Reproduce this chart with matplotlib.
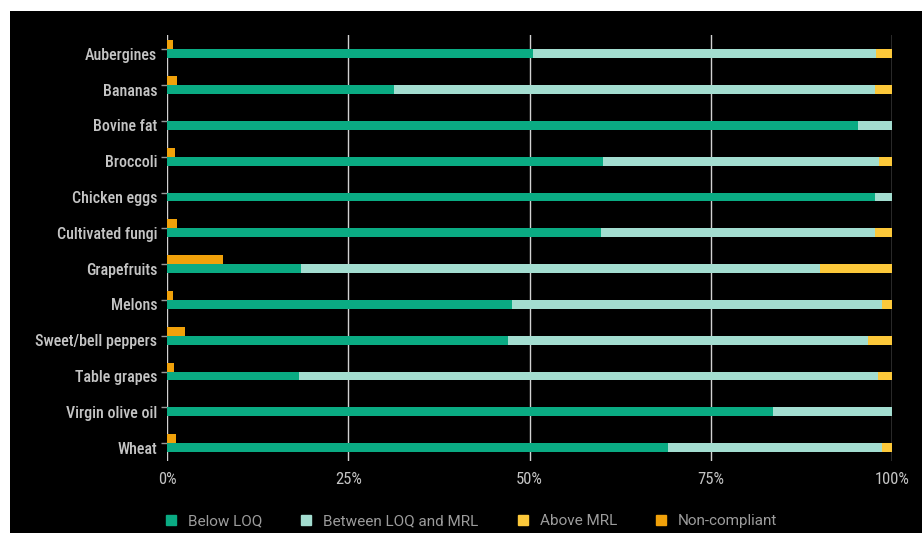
import matplotlib
matplotlib.use("Agg")
import matplotlib.pyplot as plt
from matplotlib import font_manager
from matplotlib.patches import Rectangle
from matplotlib.lines import Line2D
from matplotlib.ticker import FixedLocator

# Pesticide residue results per commodity (% of samples)
categories = ["Aubergines", "Bananas", "Bovine fat", "Broccoli", "Chicken eggs",
              "Cultivated fungi", "Grapefruits", "Melons", "Sweet/bell peppers",
              "Table grapes", "Virgin olive oil", "Wheat"]
below_loq = [50.5, 31.3, 95.3, 60.1, 97.7, 59.9, 18.5, 47.6, 47.0, 18.2, 83.6, 69.1]
between_loq_mrl = [47.3, 66.4, 4.7, 38.1, 2.3, 37.8, 71.5, 51.0, 49.7, 79.9, 16.4, 29.5]
above_mrl = [2.2, 2.3, 0.0, 1.8, 0.0, 2.3, 10.0, 1.4, 3.3, 1.9, 0.0, 1.4]
non_compliant = [0.8, 1.4, 0.0, 1.1, 0.0, 1.4, 7.7, 0.8, 2.5, 1.0, 0.0, 1.2]
x_ticks = [0, 25, 50, 75, 100]
x_tick_labels = ["0%", "25%", "50%", "75%", "100%"]
series_names = ["Below LOQ", "Between LOQ and MRL", "Above MRL", "Non-compliant"]

C_BELOW = "#0aab83"
C_BETWEEN = "#a3ddd0"
C_ABOVE = "#fcc83a"
C_NONCOMP = "#f0a10a"
TEXT = "#c4c4c4"
LEGEND_TEXT = "#9c9c9c"
GRID = "#d2d2d2"

available = {f.name for f in font_manager.fontManager.ttflist}
narrow = next((f for f in ["Roboto Condensed", "Liberation Sans Narrow", "Roboto", "DejaVu Sans"]
               if f in available), "DejaVu Sans")
regular = next((f for f in ["Roboto", "Lato", "DejaVu Sans"] if f in available), "DejaVu Sans")

W, H = 922, 533
fig = plt.figure(figsize=(W / 100, H / 100), dpi=100, facecolor="white")
# dark panel behind the chart
fig.patches.append(Rectangle((10 / W, 0), (W - 10) / W, (H - 11) / H,
                             transform=fig.transFigure, facecolor="black",
                             edgecolor="none", zorder=-10))

ax = fig.add_axes([167 / W, 1 - 461 / H, (892 - 167) / W, (461 - 35) / H])
ax.set_facecolor("none")

n = len(categories)
ypos = list(range(n))
h = 0.25
main_y = [y + h / 2 for y in ypos]
nc_y = [y - h / 2 for y in ypos]

left2 = list(below_loq)
left3 = [a + b for a, b in zip(below_loq, between_loq_mrl)]
ax.barh(main_y, below_loq, height=h, color=C_BELOW, zorder=3)
ax.barh(main_y, between_loq_mrl, left=left2, height=h, color=C_BETWEEN, zorder=3)
ax.barh(main_y, above_mrl, left=left3, height=h, color=C_ABOVE, zorder=3)
ax.barh(nc_y, non_compliant, height=h, color=C_NONCOMP, zorder=3)

ax.set_xlim(0, 100)
ax.set_ylim(n - 0.5, -0.4)

ax.set_xticks(x_ticks)
ax.set_xticklabels(x_tick_labels, fontsize=12, color=TEXT, family=narrow)
ax.tick_params(axis="x", length=0, pad=8)
ax.grid(axis="x", color=GRID, linewidth=1.0, zorder=1)

ax.set_yticks(main_y)
ax.set_yticklabels(categories, fontsize=11.5, color=TEXT, family=narrow, weight="medium")
ax.tick_params(axis="y", which="major", length=0, pad=7)
ax.yaxis.set_minor_locator(FixedLocator(ypos))
ax.tick_params(axis="y", which="minor", length=4, color="#999999", width=1)

for s in ax.spines.values():
    s.set_visible(False)

handles = [Line2D([], [], marker="s", linestyle="none", markersize=7,
                  markerfacecolor=c, markeredgecolor=c)
           for c in [C_BELOW, C_BETWEEN, C_ABOVE, C_NONCOMP]]
leg = fig.legend(handles, series_names, loc="center", bbox_to_anchor=(471 / W, 1 - 521 / H),
                 ncol=4, frameon=False, handlelength=0.8, handletextpad=0.7,
                 columnspacing=2.5, prop={"family": regular, "size": 11, "weight": "normal"})
for t in leg.get_texts():
    t.set_color(LEGEND_TEXT)

fig.savefig("out.png", dpi=100, facecolor="white")
